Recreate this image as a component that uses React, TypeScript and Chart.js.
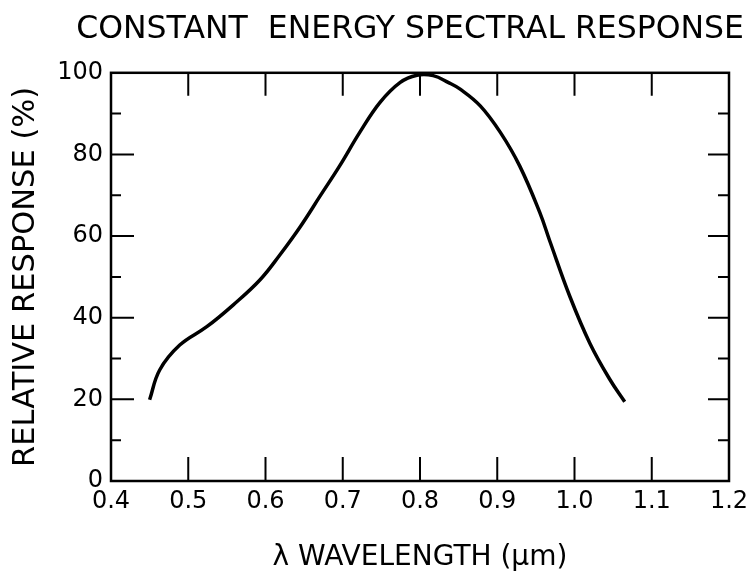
import React, { useEffect, useRef } from "react";
import { Chart, registerables } from "chart.js";

Chart.register(...registerables);

const TITLE = "CONSTANT  ENERGY SPECTRAL RESPONSE";
const X_TITLE = "\u03BB WAVELENGTH (\u03BCm)";
const Y_TITLE = "RELATIVE RESPONSE (%)";

const wavelength = [
  0.45, 0.463, 0.489, 0.524, 0.558, 0.593, 0.619, 0.645, 0.671, 0.696, 0.722,
  0.748, 0.774, 0.796, 0.817, 0.837, 0.852, 0.878, 0.904, 0.929, 0.955, 0.968,
  0.994, 1.02, 1.046, 1.065,
];
const response = [
  19.9, 27.2, 33.3, 37.8, 43.1, 49.3, 55.5, 62.3, 69.9, 77.2, 85.4, 92.7, 97.6,
  99.4, 99.3, 97.6, 96.0, 91.9, 85.4, 77.2, 65.8, 58.8, 45.2, 33.7, 24.8, 19.4,
];

const xTickMarks = [0.5, 0.6, 0.7, 0.8, 0.9, 1.0, 1.1];
const yMajorMarks = [20, 40, 60, 80];
const yMinorMarks = [10, 30, 50, 70, 90];

const FONT = "'DejaVu Sans', sans-serif";

const frameTicks = {
  id: "frameTicks",
  afterDraw(chart: any) {
    const { ctx, chartArea: a, scales } = chart;
    const x = scales.x;
    const y = scales.y;
    ctx.save();
    ctx.strokeStyle = "#000";
    ctx.lineWidth = 2.5;
    ctx.strokeRect(a.left, a.top, a.right - a.left, a.bottom - a.top);
    ctx.lineWidth = 2;
    ctx.beginPath();
    for (const v of xTickMarks) {
      const px = x.getPixelForValue(v);
      ctx.moveTo(px, a.bottom);
      ctx.lineTo(px, a.bottom - 24);
      ctx.moveTo(px, a.top);
      ctx.lineTo(px, a.top + 23);
    }
    for (const v of yMajorMarks) {
      const py = y.getPixelForValue(v);
      ctx.moveTo(a.left, py);
      ctx.lineTo(a.left + 23, py);
      ctx.moveTo(a.right, py);
      ctx.lineTo(a.right - 21, py);
    }
    for (const v of yMinorMarks) {
      const py = y.getPixelForValue(v);
      ctx.moveTo(a.left, py);
      ctx.lineTo(a.left + 10, py);
      ctx.moveTo(a.right, py);
      ctx.lineTo(a.right - 11, py);
    }
    ctx.stroke();
    ctx.restore();
  },
};

export default function App() {
  const ref = useRef<HTMLCanvasElement>(null);
  useEffect(() => {
    document.body.style.margin = "0";
    const chart = new Chart(ref.current!, {
      type: "scatter",
      data: {
        datasets: [
          {
            data: wavelength.map((w, i) => ({ x: w, y: response[i] })),
            showLine: true,
            borderColor: "#000",
            borderWidth: 3.5,
            pointRadius: 0,
            tension: 0.4,
            fill: false,
          },
        ],
      },
      options: {
        responsive: false,
        animation: false,
        layout: { padding: { left: 0, right: 12, top: 0, bottom: 0 } },
        plugins: {
          legend: { display: false },
          tooltip: { enabled: false },
          title: {
            display: true,
            text: TITLE,
            align: "end",
            color: "#000",
            font: { family: FONT, size: 31.5, weight: "normal" },
            padding: { top: 11, bottom: 24 },
          },
        },
        scales: {
          x: {
            type: "linear",
            min: 0.4,
            max: 1.2,
            ticks: {
              stepSize: 0.1,
              color: "#000",
              font: { family: FONT, size: 24 },
              padding: 6,
              callback: (v: any) => Number(v).toFixed(1),
            },
            grid: { drawOnChartArea: false, drawTicks: false },
            border: { display: false },
            title: {
              display: true,
              text: X_TITLE,
              color: "#000",
              font: { family: FONT, size: 28 },
              padding: { top: 4, bottom: 9 },
            },
            afterFit: (s: any) => {
              s.height = 103;
              s.paddingRight = 27;
            },
          },
          y: {
            type: "linear",
            min: 0,
            max: 100,
            ticks: {
              stepSize: 20,
              color: "#000",
              font: { family: FONT, size: 24 },
              padding: 8,
            },
            grid: { drawOnChartArea: false, drawTicks: false },
            border: { display: false },
            title: {
              display: true,
              text: Y_TITLE,
              color: "#000",
              font: { family: FONT, size: 30.5 },
              padding: { top: 8, bottom: 4 },
            },
            afterFit: (s: any) => {
              s.width = 111;
            },
          },
        },
      },
      plugins: [frameTicks],
    });
    return () => chart.destroy();
  }, []);
  return (
    <div style={{ width: 756, height: 584 }}>
      <canvas ref={ref} width={756} height={584} />
    </div>
  );
}
